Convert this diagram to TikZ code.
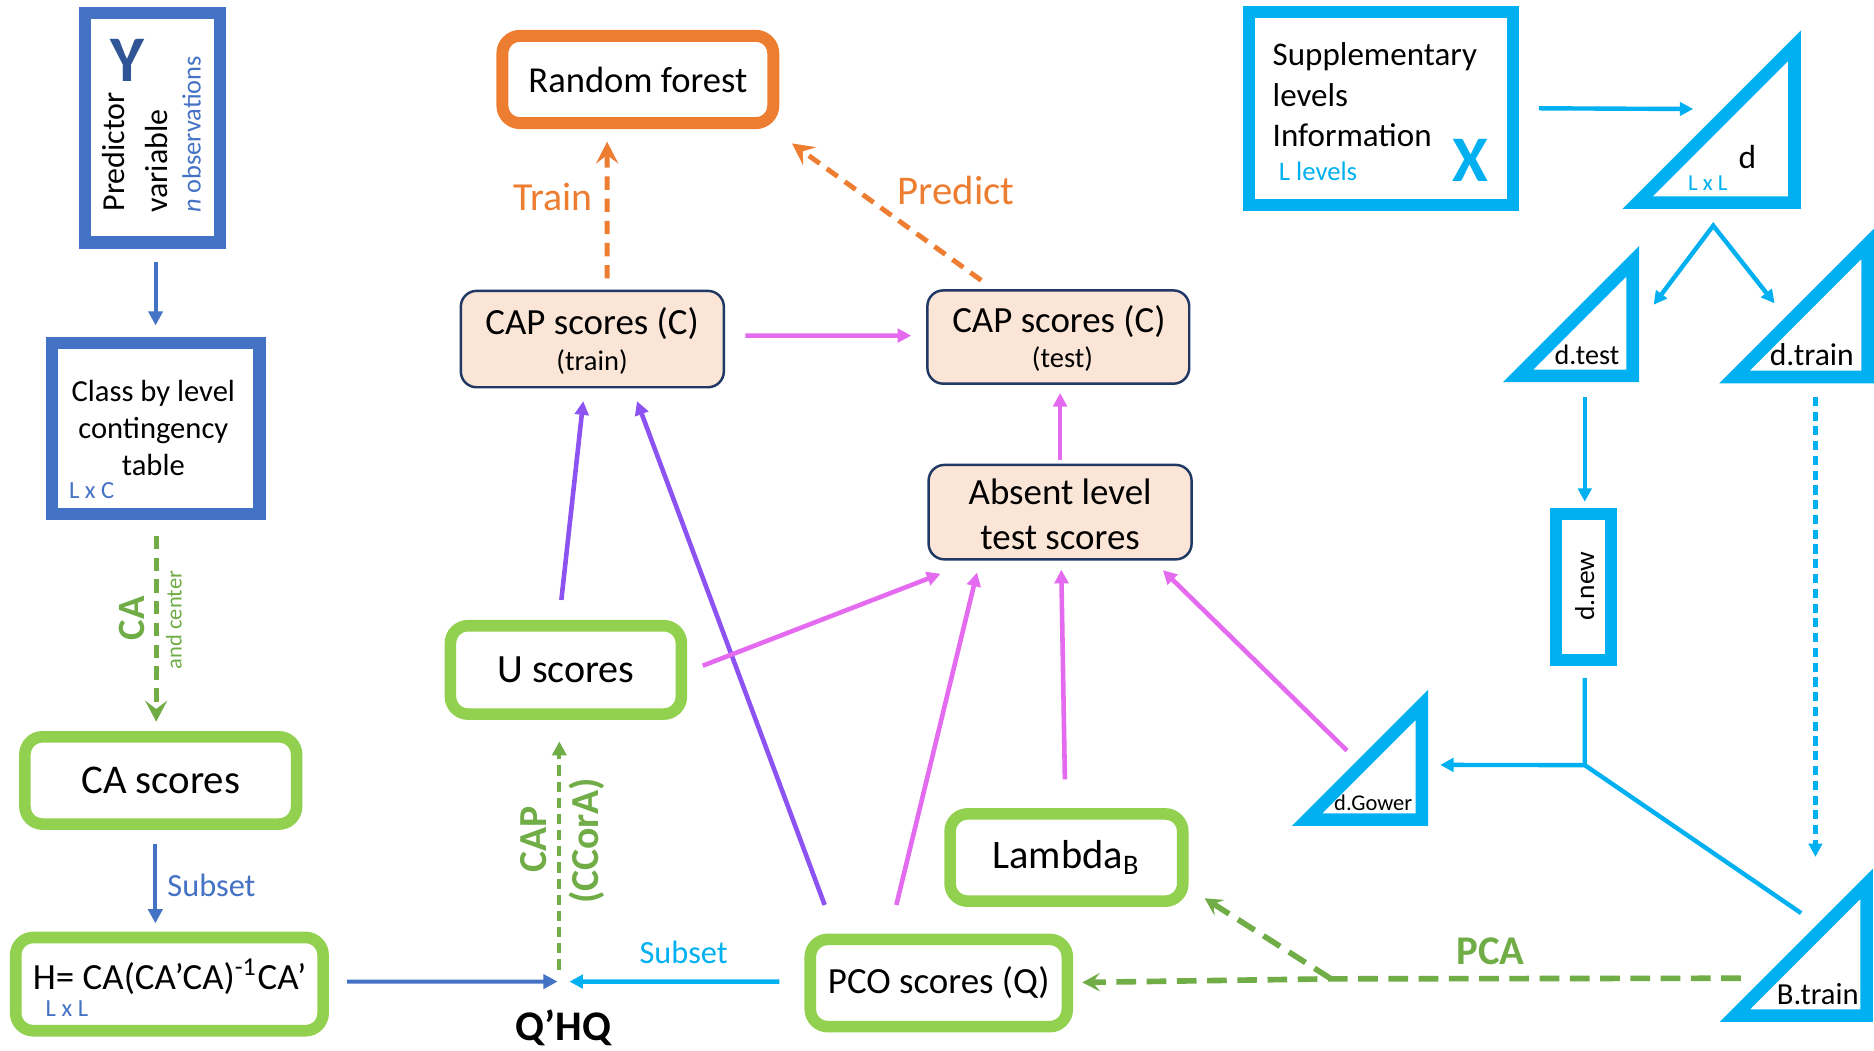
\documentclass[tikz,border=0pt]{standalone}
\usepackage{fontspec}
\setmainfont{Carlito}
\usetikzlibrary{arrows.meta,calc}

\definecolor{bxblue}{HTML}{4472C4}
\definecolor{ydark}{HTML}{2F5597}
\definecolor{gbox}{HTML}{92D050}
\definecolor{gline}{HTML}{70AD47}
\definecolor{orng}{HTML}{ED7D31}
\definecolor{cyn}{HTML}{00B0F0}
\definecolor{peach}{HTML}{FBE5D6}
\definecolor{navy}{HTML}{1F3864}
\definecolor{mag}{HTML}{E46BEF}
\definecolor{pur}{HTML}{8C53F2}

% right-angled triangle: name, outer right x, outer bottom y, outer leg, border
\newcommand\drawrtri[5]{%
  \pgfmathsetmacro\trR{#2-#5/2}%
  \pgfmathsetmacro\trB{#3-#5/2}%
  \pgfmathsetmacro\trL{#4-1.7071*#5}%
  \draw[tribord] (\trR,\trB) -- ({\trR-\trL},\trB) -- (\trR,{\trB-\trL}) -- cycle;
  \coordinate (#1) at (#2,#3);}

\begin{document}
\begin{tikzpicture}[x=0.011952cm,y=-0.011952cm,
  sz/.style 2 args={minimum width=#1*0.34006pt, minimum height=#2*0.34006pt},
  fs/.style={font=\fontsize{#1}{#1}\selectfont},
  fsb/.style={font=\fontsize{#1}{#1}\selectfont\bfseries},
  fsl/.style 2 args={font=\fontsize{#1}{#2}\selectfont},
  lbl/.style={inner sep=0pt},
  bluebox/.style={draw=bxblue, line width=3.5pt, inner sep=0pt},
  greenbox/.style={draw=gbox, line width=3.3pt, rounded corners=5pt, fill=white, inner sep=0pt},
  orangebox/.style={draw=orng, line width=3.4pt, rounded corners=5pt, fill=white, inner sep=0pt},
  peachbox/.style={draw=navy, fill=peach, line width=0.7pt, rounded corners=4.5pt, inner sep=0pt},
  cyanbox/.style={draw=cyn, line width=3.5pt, inner sep=0pt},
  tribord/.style={draw=cyn, line width=3.57pt, line join=miter, fill=white},
  blueArrow/.style={draw=bxblue, line width=1.1pt, -{Triangle[length=4pt,width=4pt]}},
  cyl/.style={draw=cyn, line width=1.25pt},
  cyArrow/.style={cyl, -{Triangle[length=3.8pt,width=3.8pt]}},
  cyDash/.style={cyl, dash pattern=on 2.6pt off 1.6pt, -{Triangle[length=3.8pt,width=3.8pt]}},
  magArrow/.style={draw=mag, line width=1.3pt, -{Triangle[length=3.9pt,width=3.9pt]}},
  purArrow/.style={draw=pur, line width=1.3pt, -{Triangle[length=3.9pt,width=3.9pt]}},
  oDash/.style={draw=orng, line width=1.4pt, dash pattern=on 3.8pt off 2.5pt, -{Stealth[length=6.2pt,width=6.3pt,inset=2.4pt]}},
  gDash/.style={draw=gline, line width=1.4pt, dash pattern=on 3.8pt off 2.4pt, -{Stealth[length=6pt,width=6.3pt,inset=2.4pt]}},
  gDashS/.style={draw=gline, line width=1.2pt, dash pattern=on 2.9pt off 1.7pt, -{Triangle[length=4pt,width=4pt]}},
  gDashP/.style={draw=gline, line width=1.6pt, dash pattern=on 5.6pt off 3pt},
]
\fill[white] (0,0) rectangle (1568,879);
\useasboundingbox (0,0) rectangle (1568,879);

% ---------- left column ----------
\node[bluebox, sz={112.7}{191.9}] (ybox) at (127.5,107) {};
\node[lbl, fsb=18.5, text=ydark] (ylab) at (106.8,50.4) {Y};
\node[lbl, fs=9.1, rotate=90, anchor=west] (pred) at (95,177.5) {Predictor};
\node[lbl, fs=9.1, rotate=90, anchor=west] (vari) at (131,178.5) {variable};
\node[lbl, fs=7.5, rotate=90, anchor=west, text=bxblue] (nobs) at (160.3,178.5) {\textit{n} observations};

\node[bluebox, sz={173.8}{143.3}] (cls) at (130.2,358.4) {};
\node[lbl, fsl={8.7}{10.6}, align=center] (clstxt) at (128.3,358) {Class by level\\contingency\\table};
\node[lbl, fs=7, text=bxblue, anchor=west] (lxc) at (57.2,410.7) {L x C};

\node[greenbox, sz={227.2}{73}, fs=11.6] (cas) at (134.5,653) {CA scores};
\node[greenbox, sz={257.1}{78}] (hbox) at (141.75,823.4) {};
\node[lbl, fs=10.5] (htxt) at (142,817) {H= CA(CA’CA)\textsuperscript{-1}CA’};
\node[lbl, fs=7, text=bxblue] (lxl1) at (56,843.6) {L x L};

\draw[blueArrow] ($(ybox.south -| cls.north)+(0,11)$) -- ($(cls.north)+(0,-9.3)$);
\draw[gDash] ($(cls.south)+(0.5,13)$) -- ($(cls.south |- cas.north)+(0.5,-7.8)$);
\node[lbl, fsb=11, text=gline, rotate=90] (calab) at (110.8,517.3) {CA};
\node[lbl, fs=6.4, text=gline, rotate=90] (acen) at (145.5,518.7) {and center};
\draw[blueArrow] ($(cas.south)+(-4.5,11.6)$) -- ($(cas.south |- hbox.north)+(-4.5,-7)$);
\node[lbl, fs=9.2, text=bxblue] (sub1) at (177,740.4) {Subset};

% ---------- middle ----------
\node[greenbox, sz={193.2}{73.9}, fs=11.4] (ubox) at (473.5,560.5) {U scores};
\node[orangebox, sz={226.6}{73}, fs=10.4] (rf) at (533.7,66.5) {Random forest};

\node[peachbox, sz={220}{80.6}] (capa) at (495.6,283.7) {};
\node[lbl, fs=10.5] (capat) at (495.4,270.5) {CAP scores (C)};
\node[lbl, fs=8.1] (capas) at (495.4,303) {(train)};
\node[peachbox, sz={219}{78}] (capb) at (885.5,282) {};
\node[lbl, fs=10.5] (capbt) at (886,269) {CAP scores (C)};
\node[lbl, fs=8.1] (capbs) at (889,300) {(test)};
\node[peachbox, sz={220}{79}] (abs) at (887,428.5) {};
\node[lbl, fs=10.5] (abs1) at (887,411.6) {Absent level};
\node[lbl, fs=10.5] (abs2) at (887,450.3) {test scores};

\node[greenbox, sz={194.6}{73}, fs=11.5] (lam) at (892.3,717.5) {Lambda\textsubscript{B}};
\node[greenbox, sz={215}{73}, fs=10.5] (pco) at (785.5,822.5) {PCO scores (Q)};

\coordinate (qhq) at (471.5,821.3);
\node[lbl, fsb=12] (qhqlab) at (471.4,860.3) {Q’HQ};
\draw[blueArrow] ($(hbox.east)+(15.2,-2.1)$) -- ($(qhq)+(-5,0)$);
\draw[cyArrow] ($(pco.west)+(-21,-1.2)$) -- ($(qhq)+(5,0)$);
\node[lbl, fs=9.2, text=cyn] (sub2) at (572,797) {Subset};
\draw[gDashS] ($(qhq)+(-3.5,-10)$) -- ($(ubox.south)+(-5.5,18)$);
\node[lbl, fsb=11.3, text=gline, rotate=90] (caplab) at (446.6,702) {CAP};
\node[lbl, fsb=11.3, text=gline, rotate=90] (ccora) at (491,703.5) {(CCorA)};

\draw[oDash] ($(capa.north)+(12.4,-9.4)$) -- ($(rf.south)+(-25.7,10.5)$);
\node[lbl, fs=11.3, text=orng] (trl) at (462.5,164.5) {Train};
\draw[oDash] ($(capb.north)+(-64.5,-7.4)$) -- ($(rf.south east)+(10.6,12)$);
\node[lbl, fs=11.6, text=orng] (prl) at (800,159) {Predict};

\draw[magArrow] ($(capa.east)+(17,-2.9)$) -- ($(capb.west)+(-12.5,-1.2)$);
\draw[magArrow] ($(abs.north)+(0,-3)$) -- ($(capb.south)+(1.5,6.7)$);
\draw[purArrow] ($(ubox.north)+(-3.8,-16.7)$) -- ($(capa.south)+(-7.6,10.6)$);
\draw[purArrow] ($(pco.north)+(-95.5,-24)$) -- ($(capa.south)+(37.4,10.6)$);
\draw[magArrow] ($(ubox.east)+(13,-3.5)$) -- ($(abs.south)+(-100,11)$);
\draw[magArrow] ($(pco.north)+(-35.5,-24)$) -- ($(abs.south)+(-69.5,10)$);
\draw[magArrow] ($(lam.north)+(-1.3,-24)$) -- ($(abs.south)+(1,7.6)$);

% ---------- right side ----------
\node[cyanbox, sz={220.4}{161.3}] (sup) at (1155.45,90.6) {};
\node[lbl, fs=9.4, anchor=west] (sup1) at (1064.3,47.4) {Supplementary};
\node[lbl, fs=9.4, anchor=west] (sup2) at (1064.3,79.5) {levels};
\node[lbl, fs=9.4, anchor=west] (sup3) at (1064.3,113) {Information};
\node[lbl, fs=7.6, text=cyn, anchor=west] (llev) at (1069.5,143.6) {L levels};
\node[lbl, fsb=18.5, text=cyn] (xlab) at (1230,134) {X};

\drawrtri{dtri}{1506.7}{174.8}{149.2}{10.5}
\drawrtri{dtest}{1371.4}{319.8}{114}{10.5}
\drawrtri{dtrain}{1568}{320.7}{129.5}{10.5}
\drawrtri{dgow}{1195}{691}{114}{10.5}
\drawrtri{btrain}{1567}{855}{128}{10.5}

\node[lbl, fs=9.5] (dlab) at (1462,131) {d};
\node[lbl, fs=6.5, text=cyn] (lxl2) at (1429,153.4) {L x L};
\node[lbl, fs=8] (dtestl) at (1327.8,297) {d.test};
\node[lbl, fs=9] (dtrainl) at (1516,297) {d.train};
\node[lbl, fs=6.4] (dgowl) at (1149,672) {d.Gower};
\node[lbl, fs=8.7] (btrainl) at (1521,832) {B.train};

\node[cyanbox, sz={46}{122}] (dnew) at (1325,491) {};
\node[lbl, fs=7.8, rotate=90] (dnewl) at (1326,490.5) {d.new};

\draw[cyArrow] ($(sup.east)+(16.7,0)$) -- ($(dtri)+(-90,-83.6)$);
\coordinate (fork) at ($(dtri)+(-73.2,14)$);
\draw[cyl, line join=miter, {Triangle[length=3.8pt,width=3.8pt]}-{Triangle[length=3.8pt,width=3.8pt]}]
  ($(dtest)+(12.2,-64.8)$) -- (fork) -- ($(dtrain)+(-83.2,-66.9)$);
\draw[cyArrow] ($(dtest)+(-45.4,12.2)$) -- ($(dnew.north)+(1,-5)$);
\coordinate (jn) at ($(dnew.south)+(1,83)$);
\draw[cyl] ($(dnew.south)+(1,10)$) -- (jn) -- ($(btrain)+(-60,-91)$);
\draw[cyArrow] (jn) -- ($(dgow)+(10,-51)$);
\draw[cyDash] ($(dtrain)+(-49,11.3)$) -- ($(btrain)+(-48,-138)$);

\draw[magArrow] ($(dgow)+(-68,-63)$) -- ($(abs.south)+(86,8)$);

\coordinate (pcaj) at ($(btrain)+(-453.3,-36)$);
\draw[gDashP, -{Stealth[length=5pt,width=5.2pt,inset=2pt]}] ($(btrain)+(-110.5,-36.5)$) -- (pcaj) -- ($(pco.east)+(7.6,-0.5)$);
\draw[gDashP, -{Stealth[length=5pt,width=5.2pt,inset=2pt]}] (pcaj) -- ($(lam.south east)+(13.4,-7.3)$);
\node[lbl, fsb=11.6, text=gline] (pcal) at (1247,796) {PCA};
\end{tikzpicture}
\end{document}
